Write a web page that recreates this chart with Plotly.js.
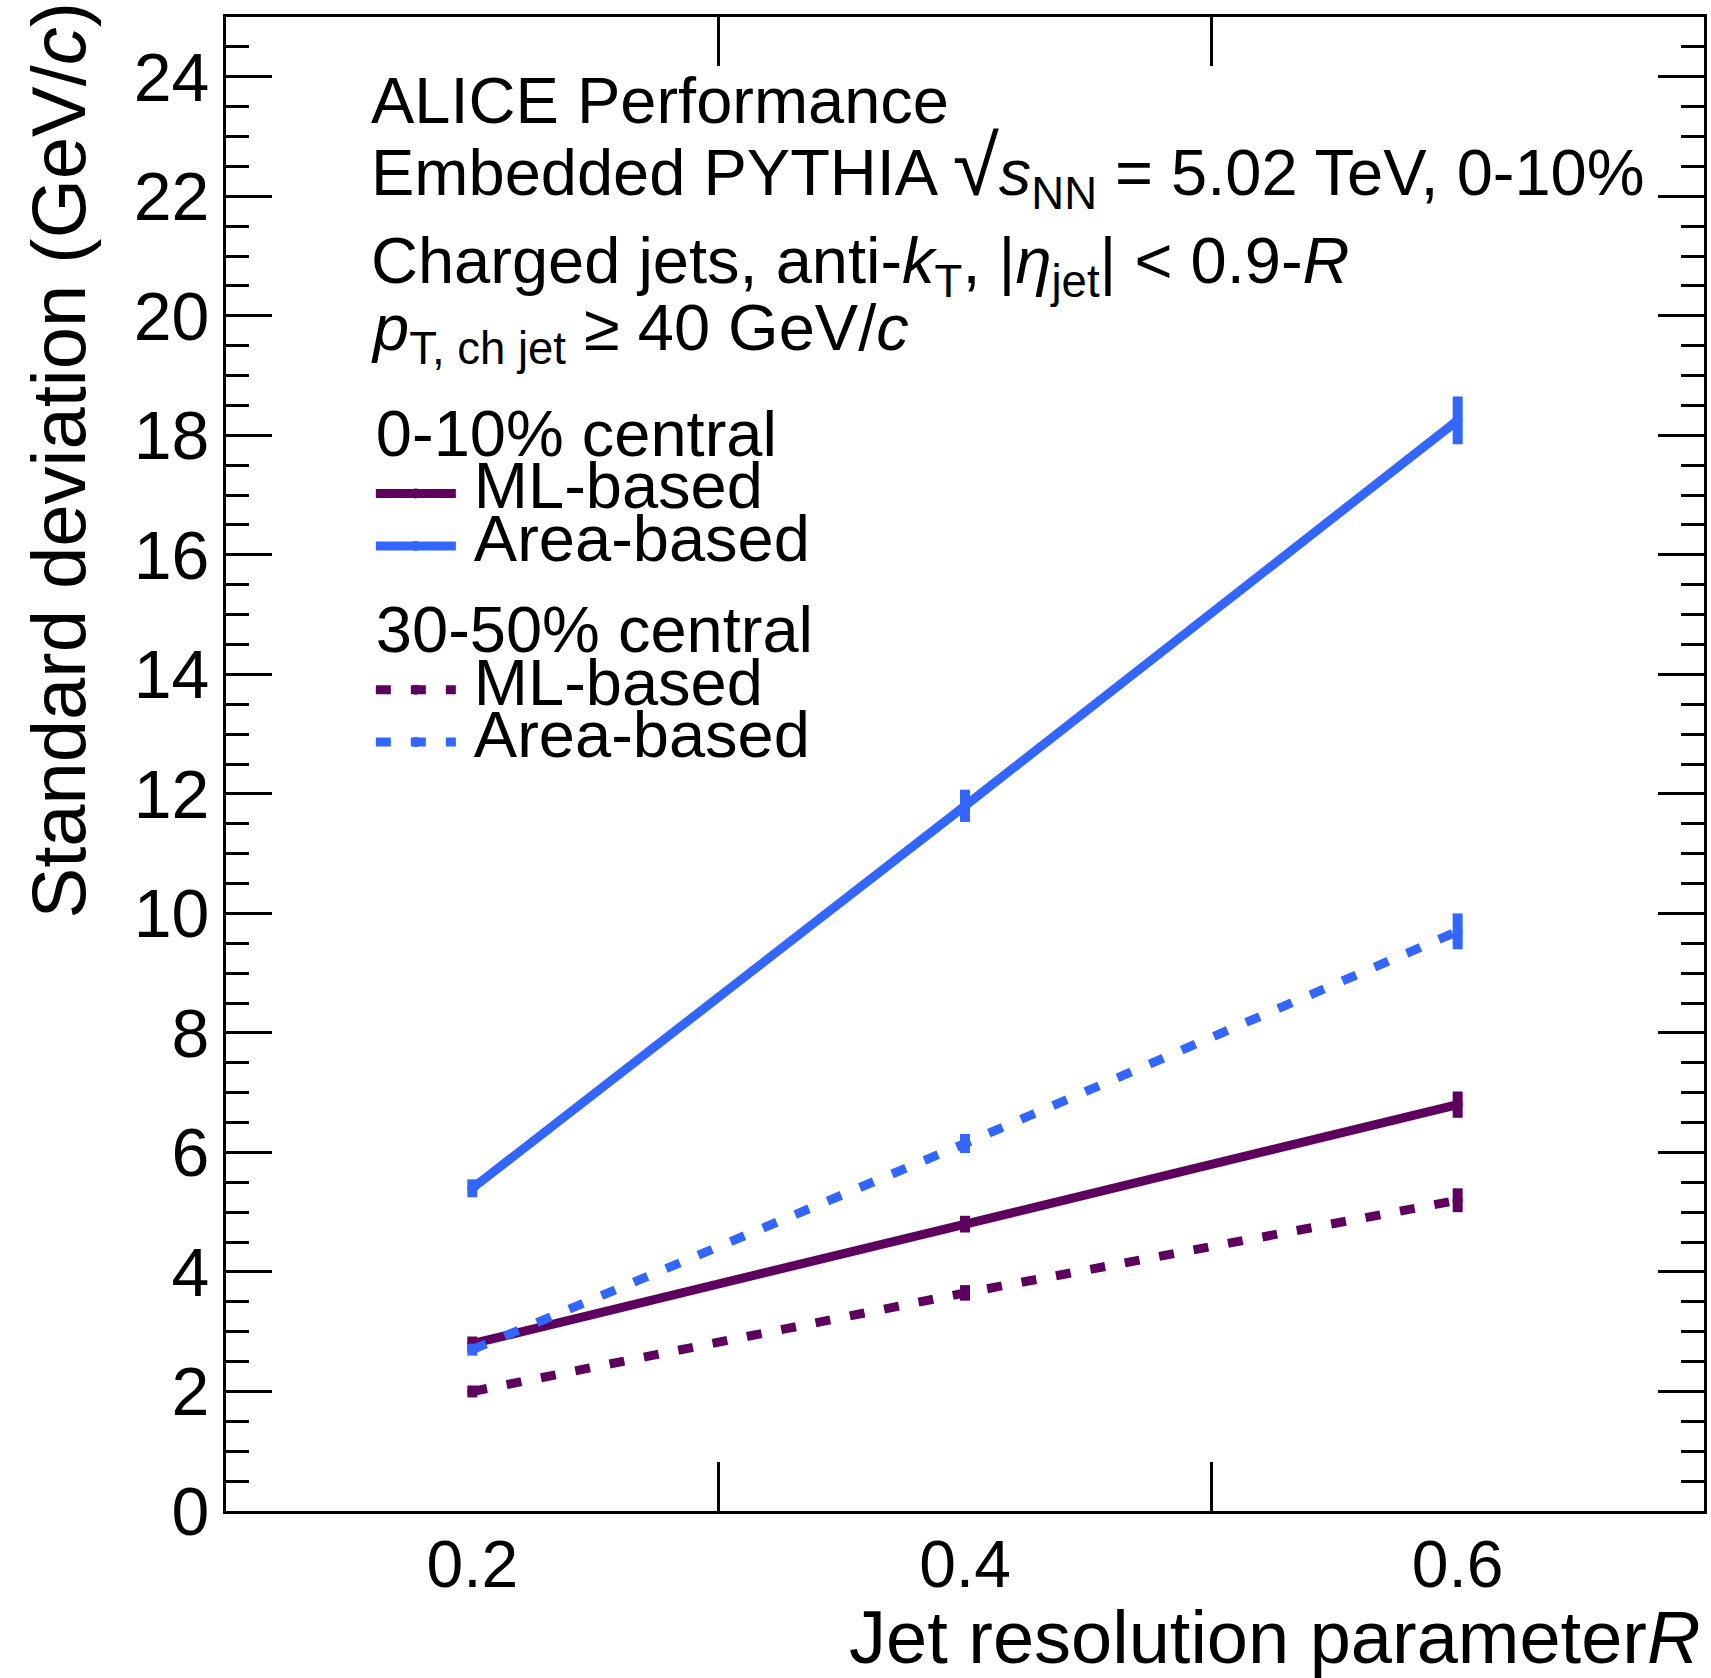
<!DOCTYPE html>
<html>
<head>
<meta charset="utf-8">
<script src="https://cdn.plot.ly/plotly-3.0.1.min.js"></script>
<style>html,body{margin:0;padding:0;background:#fff;}#chart{width:1711px;height:1678px;}</style>
</head>
<body>
<div id="chart"></div>
<script>
// ---- data ----
const R_values = [0.2, 0.4, 0.6];
const xTickLabels = ['0.2', '0.4', '0.6'];
const xMinorTicks = [0.3, 0.5];
const ml_central = [2.8, 4.8, 6.8];
const ml_central_err = [0.12, 0.14, 0.22];
const area_central = [5.4, 11.8, 18.25];
const area_central_err = [0.15, 0.27, 0.4];
const ml_semi = [2.0, 3.65, 5.2];
const ml_semi_err = [0.1, 0.13, 0.2];
const area_semi = [2.7, 6.15, 9.7];
const area_semi_err = [0.1, 0.16, 0.3];

const PURPLE = '#5e005e';
const BLUE = '#3366ff';
const FONT = 'Liberation Sans, Arial, Helvetica, sans-serif';
const LEG_FS = 65;

function big(t){ return '<span style="font-size:' + LEG_FS + 'px">' + t + '</span>'; }

function mk(y, err, color, dash, name, group, gtitle){
  return {
    x: R_values, y: y, type: 'scatter', mode: 'lines+markers',
    name: big('\u2009' + name), legendgroup: group,
    legendgrouptitle: {text: big(gtitle), font: {size: 38, family: FONT, color: '#000'}},
    line: {color: color, width: 9, dash: dash},
    marker: {color: color, size: 10, symbol: 'circle'},
    error_y: {type: 'data', array: err, visible: true, color: color, thickness: 10, width: 0}
  };
}

const traces = [
  mk(ml_central, ml_central_err, PURPLE, 'solid', 'ML-based', 'c010', '0-10% central'),
  mk(area_central, area_central_err, BLUE, 'solid', 'Area-based', 'c010', '0-10% central'),
  mk(ml_semi, ml_semi_err, PURPLE, '15px,20px', 'ML-based', 'c3050', '30-50% central'),
  mk(area_semi, area_semi_err, BLUE, '15px,20px', 'Area-based', 'c3050', '30-50% central')
];

const txt = (text, x, y, opts) => Object.assign({
  text: text, x: x, y: y, xref: 'paper', yref: 'paper', showarrow: false,
  xanchor: 'left', yanchor: 'middle', font: {size: 65, family: FONT, color: '#000'}
}, opts || {});

const layout = {
  width: 1711, height: 1678,
  margin: {l: 226, r: 7, t: 17, b: 167},
  paper_bgcolor: '#fff', plot_bgcolor: '#fff',
  font: {family: FONT, color: '#000'},
  showlegend: true,
  legend: {
    x: 0.098, y: 0.737, xanchor: 'left', yanchor: 'top',
    font: {size: 38, family: FONT, color: '#000'},
    bgcolor: 'rgba(0,0,0,0)', borderwidth: 0,
    itemwidth: 80, tracegroupgap: 39, traceorder: 'grouped'
  },
  xaxis: {
    range: [0.1, 0.7], tickvals: R_values, ticktext: xTickLabels,
    ticks: 'inside', ticklen: 0, tickwidth: 0, tickcolor: '#000',
    minor: {tickvals: xMinorTicks, ticks: 'inside', ticklen: 49, tickwidth: 3, tickcolor: '#000', showgrid: false},
    showgrid: false, zeroline: false,
    showline: true, linewidth: 3, linecolor: '#000', mirror: 'allticks',
    tickfont: {size: 66, family: FONT, color: '#000'},
    ticklabelstandoff: -6
  },
  yaxis: {
    range: [0, 25], tick0: 0, dtick: 2,
    ticks: 'inside', ticklen: 46, tickwidth: 3, tickcolor: '#000',
    minor: {dtick: 0.5, ticks: 'inside', ticklen: 23, tickwidth: 3, tickcolor: '#000', showgrid: false},
    showgrid: false, zeroline: false,
    showline: true, linewidth: 3, linecolor: '#000', mirror: 'allticks',
    tickfont: {size: 68, family: FONT, color: '#000'}
  },
  annotations: [
    txt('Standard deviation (GeV/<i>c</i>)', -0.113, 1.012, {xanchor: 'center', yanchor: 'top', textangle: -90, font: {size: 76, family: FONT, color: '#000'}}),
    txt('Jet resolution parameter<i>R</i>', 0.9986, -0.085, {xanchor: 'right', yanchor: 'middle', font: {size: 74, family: FONT, color: '#000'}}),
    txt('ALICE Performance', 0.0968, 0.944),
    txt('Embedded PYTHIA <span style="font-size:84px">\u221A</span><i>s</i><sub>NN</sub> = 5.02 TeV, 0-10%', 0.0968, 0.898),
    txt('Charged jets, anti-<i>k</i><sub>T</sub>, |<i>\u03B7</i><sub>jet</sub>| &lt; 0.9-<i>R</i>', 0.0968, 0.834),
    txt('<i>p</i><sub>T, ch jet</sub> \u2265 40 GeV/<i>c</i>', 0.0968, 0.789)
  ]
};

Plotly.newPlot('chart', traces, layout, {displayModeBar: false, staticPlot: true});
</script>
</body>
</html>
